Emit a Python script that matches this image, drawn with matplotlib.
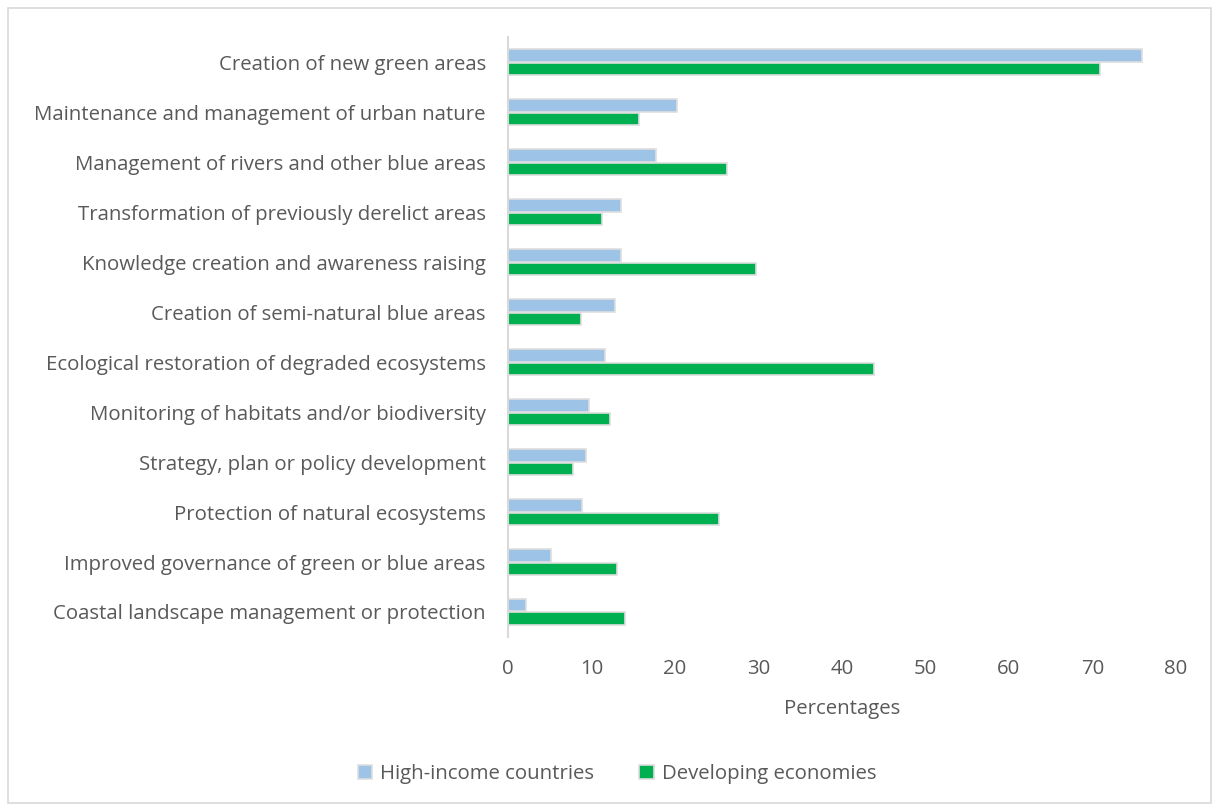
import numpy as np
import matplotlib.pyplot as plt
from matplotlib.patches import Rectangle

plt.rcParams['font.family'] = ['Open Sans', 'DejaVu Sans']

categories = [
    'Creation of new green areas',
    'Maintenance and management of urban nature',
    'Management of rivers and other blue areas',
    'Transformation of previously derelict areas',
    'Knowledge creation and awareness raising',
    'Creation of semi-natural blue areas',
    'Ecological restoration of degraded ecosystems',
    'Monitoring of habitats and/or biodiversity',
    'Strategy, plan or policy development',
    'Protection of natural ecosystems',
    'Improved governance of green or blue areas',
    'Coastal landscape management or protection',
]
high_income = [76.0, 20.3, 17.7, 13.5, 13.5, 12.8, 11.6, 9.7, 9.3, 8.9, 5.1, 2.1]
developing = [70.9, 15.7, 26.2, 11.3, 29.7, 8.7, 43.8, 12.2, 7.8, 25.3, 13.1, 14.0]
x_ticks = [0, 10, 20, 30, 40, 50, 60, 70, 80]

text_col = '#595959'
edge_col = '#dedede'
fs = 14.7

fig = plt.figure(figsize=(12.13, 8.05), dpi=100)
ax = fig.add_axes([0.4188, 0.2087, 0.5505, 0.7453])

# outer chart border
fig.patches.append(Rectangle((8 / 1213, 0.002), 1203 / 1213, 1 - 8 / 805 - 0.002,
                             transform=fig.transFigure, fill=False,
                             edgecolor='#d9d9d9', linewidth=1.2))

y = np.arange(len(categories))
h = 0.245
ax.barh(y - h / 2 - 0.01, high_income, height=h, color='#9dc3e6',
        edgecolor=edge_col, linewidth=1.2, label='High-income countries')
ax.barh(y + h / 2 + 0.01, developing, height=h, color='#00b050',
        edgecolor=edge_col, linewidth=1.2, label='Developing economies')

ax.set_ylim(len(categories) - 0.5, -0.5)
ax.set_xlim(0, 80)
ax.set_yticks(y)
ax.set_yticklabels(categories, fontsize=fs, color=text_col)
ax.set_xticks(x_ticks)
ax.set_xticklabels([str(t) for t in x_ticks], fontsize=fs, color=text_col)
ax.tick_params(axis='y', length=0, pad=16)
ax.tick_params(axis='x', length=0, pad=15.5)
ax.set_xlabel('Percentages', fontsize=fs, color=text_col, labelpad=15)

for s in ['top', 'right', 'bottom']:
    ax.spines[s].set_visible(False)
ax.spines['left'].set_color('#d9d9d9')
ax.spines['left'].set_linewidth(1.5)

fig.legend(loc='center', bbox_to_anchor=(617 / 1213, 1 - 774 / 805), ncol=2,
           frameon=False, fontsize=fs, labelcolor=text_col,
           handlelength=0.7, handleheight=0.7, handletextpad=0.4,
           columnspacing=2.2)

fig.savefig('out.png', dpi=100)
